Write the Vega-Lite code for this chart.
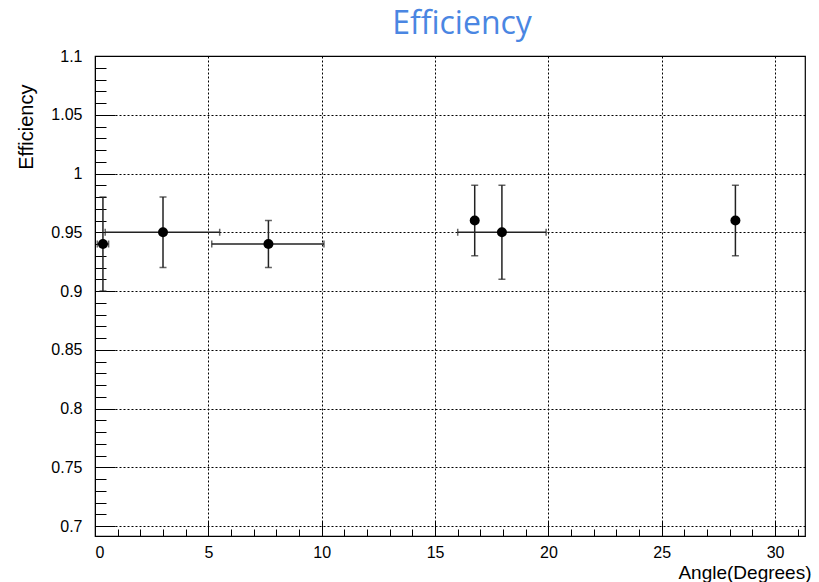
{
  "$schema": "https://vega.github.io/schema/vega-lite/v6.json",
  "width": 710,
  "height": 480,
  "autosize": {"type": "none"},
  "padding": {"left": 95, "top": 56, "right": 14, "bottom": 46},
  "background": "white",
  "title": {
    "text": "Efficiency",
    "color": "#4a86e2",
    "font": "Open Sans",
    "fontSize": 32,
    "fontWeight": "normal",
    "anchor": "middle",
    "dx": 12,
    "offset": 7
  },
  "config": {
    "view": {"stroke": "black", "strokeWidth": 1.2},
    "axis": {
      "labelFont": "Liberation Sans",
      "titleFont": "Liberation Sans",
      "labelColor": "black",
      "titleColor": "black",
      "labelFontSize": 16,
      "titleFontSize": 18,
      "titleFontWeight": "normal",
      "tickColor": "black",
      "domainColor": "black",
      "gridColor": "black",
      "gridOpacity": 1,
      "gridDash": [2, 2],
      "gridWidth": 1
    }
  },
  "data": {
    "values": [
      {"x": 0.35, "y": 0.94, "ylo": 0.90, "yhi": 0.98, "xlo": 0.1, "xhi": 0.6},
      {"x": 3.0, "y": 0.95, "ylo": 0.92, "yhi": 0.98, "xlo": 0.45, "xhi": 5.5},
      {"x": 7.65, "y": 0.94, "ylo": 0.92, "yhi": 0.96, "xlo": 5.15, "xhi": 10.1},
      {"x": 16.75, "y": 0.96, "ylo": 0.93, "yhi": 0.99, "xlo": null, "xhi": null},
      {"x": 17.95, "y": 0.95, "ylo": 0.91, "yhi": 0.99, "xlo": 16.0, "xhi": 19.9},
      {"x": 28.25, "y": 0.96, "ylo": 0.93, "yhi": 0.99, "xlo": null, "xhi": null}
    ]
  },
  "resolve": {"axis": {"x": "independent", "y": "independent"}},
  "layer": [
    {
      "mark": {"type": "point", "opacity": 0},
      "encoding": {
        "x": {
          "field": "x", "type": "quantitative",
          "scale": {"domain": [0, 31.32], "nice": false, "zero": false},
          "axis": {"orient": "bottom", "values": [1,2,3,4,6,7,8,9,11,12,13,14,16,17,18,19,21,22,23,24,26,27,28,29,31],
            "tickSize": -7, "labels": false, "grid": false, "domain": false, "title": null}
        },
        "y": {
          "field": "y", "type": "quantitative",
          "scale": {"domain": [0.6915, 1.1], "nice": false, "zero": false},
          "axis": {"orient": "left", "values": [0.71,0.72,0.73,0.74,0.76,0.77,0.78,0.79,0.81,0.82,0.83,0.84,0.86,0.87,0.88,0.89,0.91,0.92,0.93,0.94,0.96,0.97,0.98,0.99,1.01,1.02,1.03,1.04,1.06,1.07,1.08,1.09],
            "tickSize": -11, "labels": false, "grid": false, "domain": false, "title": null}
        }
      }
    },
    {
      "transform": [{"filter": "datum.xlo != null"}],
      "mark": {"type": "rule", "color": "#222", "strokeWidth": 1.5},
      "encoding": {
        "x": {"field": "xlo", "type": "quantitative", "axis": null},
        "x2": {"field": "xhi"},
        "y": {"field": "y", "type": "quantitative", "axis": null}
      }
    },
    {
      "transform": [{"filter": "datum.xlo != null"}],
      "mark": {"type": "tick", "orient": "vertical", "color": "#222", "size": 7, "thickness": 1.5},
      "encoding": {
        "x": {"field": "xlo", "type": "quantitative", "axis": null},
        "y": {"field": "y", "type": "quantitative", "axis": null}
      }
    },
    {
      "transform": [{"filter": "datum.xlo != null"}],
      "mark": {"type": "tick", "orient": "vertical", "color": "#222", "size": 7, "thickness": 1.5},
      "encoding": {
        "x": {"field": "xhi", "type": "quantitative", "axis": null},
        "y": {"field": "y", "type": "quantitative", "axis": null}
      }
    },
    {
      "mark": {"type": "rule", "color": "#222", "strokeWidth": 1.5},
      "encoding": {
        "x": {"field": "x", "type": "quantitative", "axis": null},
        "y": {"field": "ylo", "type": "quantitative", "axis": null},
        "y2": {"field": "yhi"}
      }
    },
    {
      "mark": {"type": "tick", "orient": "horizontal", "color": "#222", "size": 7, "thickness": 1.5},
      "encoding": {
        "x": {"field": "x", "type": "quantitative", "axis": null},
        "y": {"field": "ylo", "type": "quantitative", "axis": null}
      }
    },
    {
      "mark": {"type": "tick", "orient": "horizontal", "color": "#222", "size": 7, "thickness": 1.5},
      "encoding": {
        "x": {"field": "x", "type": "quantitative", "axis": null},
        "y": {"field": "yhi", "type": "quantitative", "axis": null}
      }
    },
    {
      "mark": {"type": "point", "shape": "circle", "filled": true, "color": "black", "opacity": 1, "size": 100},
      "encoding": {
        "x": {
          "field": "x", "type": "quantitative",
          "axis": {"orient": "bottom", "values": [0,5,10,15,20,25,30], "tickSize": -15, "grid": true,
            "labelPadding": 23, "labelFontSize": 16, "title": "Angle(Degrees)", "titleAlign": "right", "titleX": 716, "titleY": 42, "titleBaseline": "alphabetic", "titleFontSize": 19}
        },
        "y": {
          "field": "y", "type": "quantitative",
          "axis": {"orient": "left", "values": [0.7,0.75,0.8,0.85,0.9,0.95,1,1.05,1.1], "format": "~g", "tickSize": -20, "grid": true,
            "labelPadding": 33, "title": "Efficiency", "titleAngle": -90, "titleAlign": "right", "titleX": -63, "titleY": 28, "titleBaseline": "alphabetic", "titleFontSize": 20}
        }
      }
    }
  ]
}
